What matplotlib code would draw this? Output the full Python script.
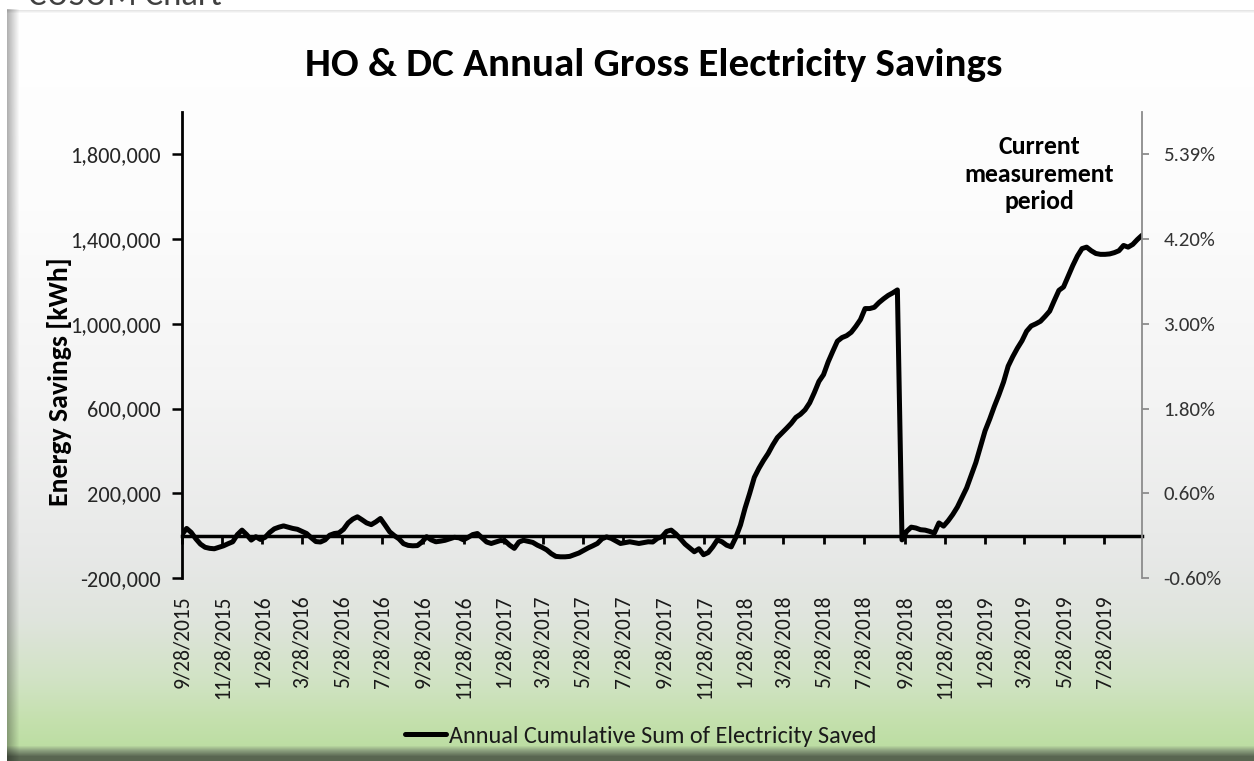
import numpy as np
import matplotlib
matplotlib.use('Agg')
import matplotlib.pyplot as plt
from matplotlib.ticker import FuncFormatter
import datetime as dt

# ---------------- data ----------------
start_date = '2015-09-28'          # first weekly observation
series_name = 'Annual Cumulative Sum of Electricity Saved'
# weekly values, thousand kWh
savings_k = [
    5, 34, 15, -15, -40, -55, -60, -62, -55, -48,
    -38, -29, 5, 26, 5, -21, -5, -18, -8, 15,
    32, 40, 46, 40, 34, 30, 20, 10, -10, -28,
    -30, -20, 2, 10, 13, 30, 60, 78, 89, 75,
    60, 52, 65, 81, 50, 18, 0, -15, -38, -46,
    -48, -47, -30, -5, -20, -29, -26, -22, -15, -8,
    -10, -20, -8, 5, 10, -10, -30, -37, -30, -23,
    -25, -45, -60, -30, -22, -27, -32, -45, -55, -67,
    -85, -98, -100, -100, -98, -90, -82, -70, -58, -48,
    -37, -15, -6, -13, -25, -37, -33, -29, -33, -37,
    -33, -29, -30, -13, -5, 20, 26, 8, -15, -40,
    -58, -76, -62, -90, -80, -53, -20, -29, -45, -53,
    -8, 50, 130, 200, 275, 318, 355, 388, 428, 463,
    485, 507, 530, 558, 573, 594, 627, 675, 728, 760,
    820, 870, 918, 935, 944, 960, 988, 1020, 1072, 1072,
    1078, 1100, 1118, 1134, 1146, 1160, -20, 20, 40, 36,
    28, 26, 20, 12, 60, 45, 70, 100, 135, 180,
    225, 285, 345, 420, 495, 550, 610, 665, 725, 800,
    845, 885, 920, 965, 990, 1000, 1012, 1035, 1060, 1110,
    1158, 1174, 1225, 1275, 1320, 1355, 1362, 1345, 1332, 1328,
    1328, 1330, 1336, 1345, 1370, 1362, 1375, 1398, 1418,
]
x_tick_labels = ['9/28/2015', '11/28/2015', '1/28/2016', '3/28/2016', '5/28/2016',
                 '7/28/2016', '9/28/2016', '11/28/2016', '1/28/2017', '3/28/2017',
                 '5/28/2017', '7/28/2017', '9/28/2017', '11/28/2017', '1/28/2018',
                 '3/28/2018', '5/28/2018', '7/28/2018', '9/28/2018', '11/28/2018',
                 '1/28/2019', '3/28/2019', '5/28/2019', '7/28/2019']
y_ticks = [-200000, 200000, 600000, 1000000, 1400000, 1800000]
y_limits = [-200000, 2000000]
pct_labels = ['-0.60%', '0.60%', '1.80%', '3.00%', '4.20%', '5.39%']

title = 'HO & DC Annual Gross Electricity Savings'
y_label = 'Energy Savings [kWh]'
note = 'Current\nmeasurement\nperiod'
corner_text = 'CUSUM Chart'

# ---------------- derived ----------------
savings = np.array(savings_k, dtype=float) * 1000
dates = np.datetime64(start_date) + np.arange(len(savings)) * np.timedelta64(7, 'D')
dates = dates.astype('datetime64[D]').astype(dt.date)
tick_dates = [dt.datetime.strptime(s, '%m/%d/%Y').date() for s in x_tick_labels]

plt.rcParams['font.family'] = ['Carlito', 'Lato', 'DejaVu Sans']

W, H = 1254, 761
fig = plt.figure(figsize=(W / 100, H / 100), dpi=100)

# ---------------- background panel ----------------
bg = fig.add_axes([0, 0, 1, 1], zorder=-10)
bg.axis('off')
stop_y = [0, 9, 10, 13, 200, 400, 560, 620, 680, 720, 745, 750, 756, 761]
stop_c = np.array([
    [1, 1, 1], [1, 1, 1], [0.90, 0.90, 0.90], [1, 1, 1], [0.99, 0.99, 0.99],
    [0.955, 0.955, 0.955], [0.905, 0.91, 0.905], [0.875, 0.895, 0.865],
    [0.82, 0.89, 0.77], [0.77, 0.88, 0.68], [0.74, 0.87, 0.64],
    [0.55, 0.63, 0.50], [0.35, 0.40, 0.32], [0.35, 0.40, 0.32]])
yy = np.arange(H)
col = np.stack([np.interp(yy, stop_y, stop_c[:, k]) for k in range(3)], axis=1)
img = np.repeat(col[:, None, :], W, axis=1)
xx = np.arange(W)
shade = np.interp(xx, [7, 9, 19], [0.70, 0.75, 1.0])
img = img * shade[None, :, None]
img[:9, :, :] = 1.0
img[:, :7, :] = 1.0
bg.imshow(img, extent=[0, 1, 0, 1], aspect='auto', interpolation='bilinear')
bg.set_xlim(0, 1)
bg.set_ylim(0, 1)

fig.text(28 / W, 1 - 5 / H, corner_text, fontsize=25, color='#404040',
         va='baseline', ha='left')

# ---------------- main axes ----------------
L, R, T, B = 182, 1142, 112, 578
ax = fig.add_axes([L / W, 1 - B / H, (R - L) / W, (B - T) / H])
ax.patch.set_alpha(0)

line, = ax.plot(dates, savings, color='black', lw=3.6,
                solid_joinstyle='round', solid_capstyle='round', zorder=3)
ax.set_xlim(dates[0], dates[-1])
ax.set_ylim(*y_limits)

for s in ['top', 'right', 'bottom']:
    ax.spines[s].set_visible(False)
ax.spines['left'].set_linewidth(2.0)
ax.spines['left'].set_color('black')

ax.set_yticks(y_ticks)
ax.yaxis.set_major_formatter(FuncFormatter(lambda v, p: f'{int(v):,}'))
ax.tick_params(axis='y', length=7, width=1.8, color='black', labelsize=16,
               labelcolor='#262626', pad=8.5)

ax.set_xticks(tick_dates)
ax.set_xticklabels(x_tick_labels, rotation=90, va='top', ha='center')
ax.tick_params(axis='x', length=0, pad=12.5, labelsize=15.5, labelcolor='#1a1a1a')

# zero line acting as category axis
zero_loc = (0 - y_limits[0]) / (y_limits[1] - y_limits[0])
sec = ax.secondary_xaxis(zero_loc)
sec.set_xticks(tick_dates)
sec.tick_params(axis='x', length=6, width=2, direction='out', color='black',
                labelbottom=False, labeltop=False)
for s in sec.spines.values():
    s.set_linewidth(2.5)
    s.set_color('black')

# right percentage axis
ax2 = ax.twinx()
ax2.patch.set_alpha(0)
ax2.set_ylim(*y_limits)
ax2.set_yticks(y_ticks)
ax2.set_yticklabels(pct_labels)
for s in ['top', 'left', 'bottom']:
    ax2.spines[s].set_visible(False)
ax2.spines['right'].set_color('#8c8c8c')
ax2.spines['right'].set_linewidth(1.3)
ax2.tick_params(axis='y', length=5, width=1.3, color='#8c8c8c', labelsize=15,
                labelcolor='#333333', pad=10.5)

# ---------------- texts ----------------
fig.text(654 / W, 1 - 65 / H, title, fontsize=29.5, fontweight='bold',
         ha='center', va='center', color='black')
fig.text(60 / W, 1 - 382 / H, y_label, fontsize=20, fontweight='bold',
         rotation=90, ha='center', va='center', color='black')
fig.text(1039 / W, 1 - 174 / H, note, fontsize=18.5, fontweight='bold',
         ha='center', va='center', linespacing=1.23, color='black')

fig.legend([line], [series_name], loc='center',
           bbox_to_anchor=(641 / W, 1 - 736 / H), frameon=False,
           handlelength=1.7, handletextpad=0.12, fontsize=17.5,
           labelcolor='#1a1a1a')

fig.savefig('out.png', dpi=100)
